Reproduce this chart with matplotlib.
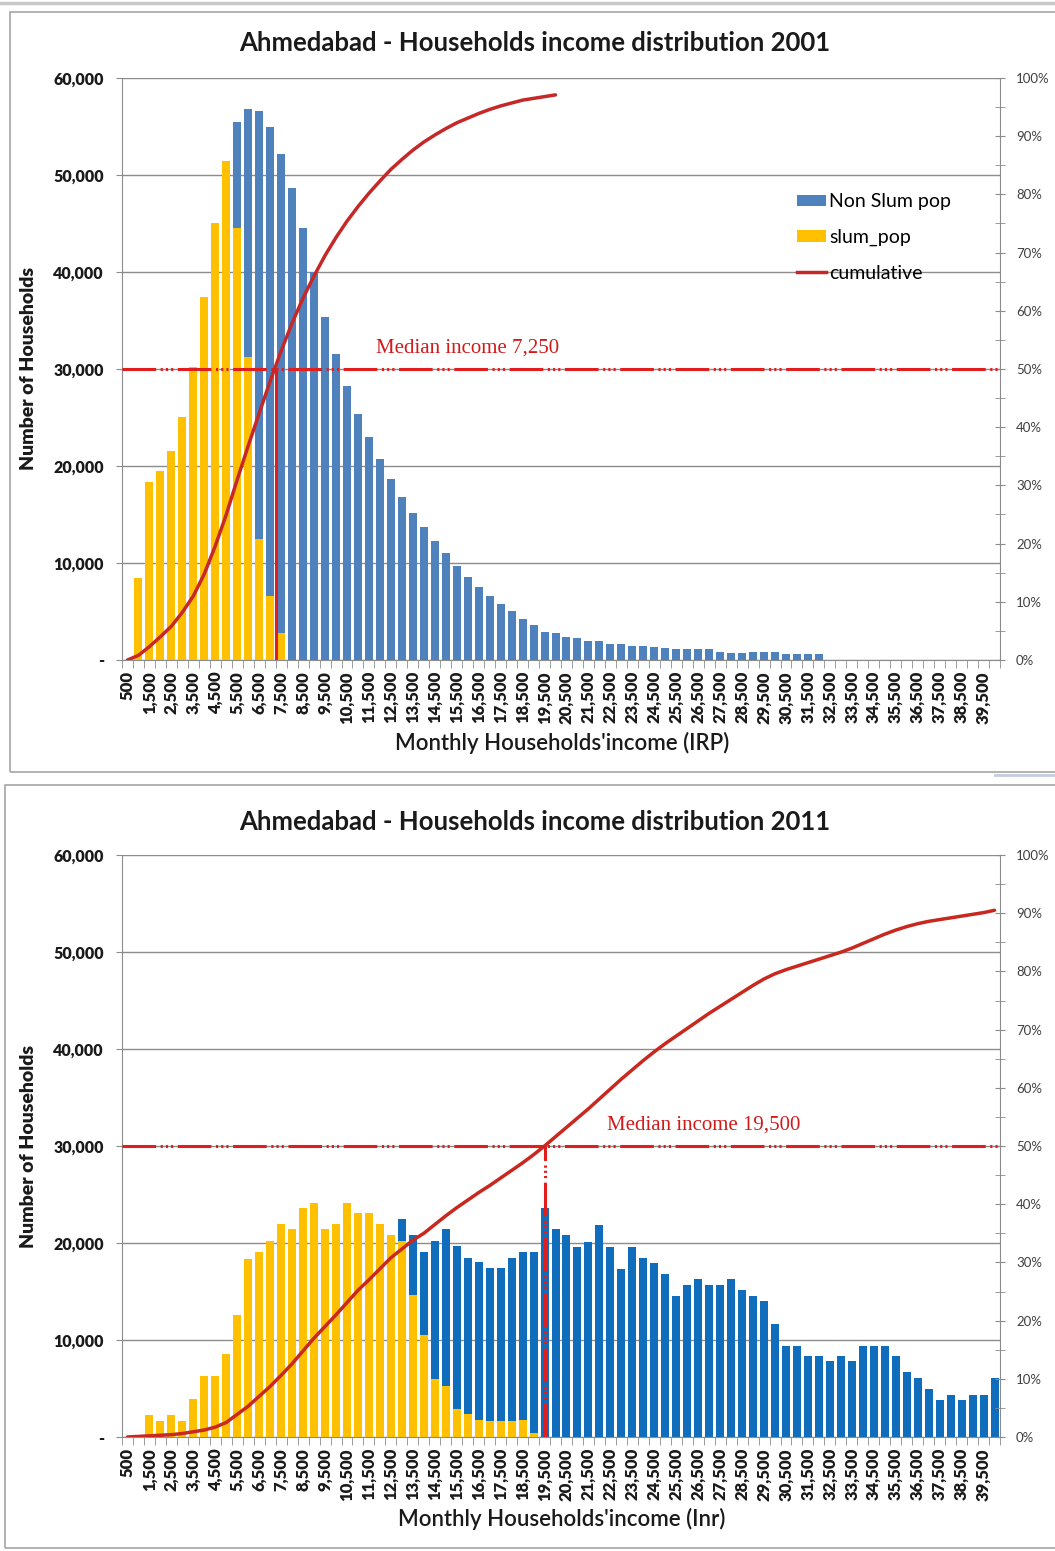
import matplotlib
matplotlib.use("Agg")
import matplotlib.pyplot as plt
from matplotlib.patches import Rectangle, Patch
from matplotlib.lines import Line2D
from matplotlib.ticker import FixedLocator, FuncFormatter, MultipleLocator

plt.rcParams['font.family'] = ['Lato', 'DejaVu Sans']

# ---------------- data ----------------
income_bins = list(range(500, 40001, 500))          # monthly household income classes
tick_values = list(range(500, 40000, 1000))          # labelled classes
tick_labels = [f"{v:,}" for v in tick_values]

# 2001
slum_2001 = [0, 8500, 18400, 19500, 21500, 25000, 30200, 37400, 45100, 51400,
             44500, 31200, 12500, 6600, 2800] + [0] * 65
non_slum_2001 = ([0] * 10 +
                 [11000, 25600, 44100, 48400, 49400, 48700, 44500, 40000, 35400, 31500,
                  28200, 25400, 23000, 20700, 18700, 16800, 15200, 13700, 12300, 11000,
                  9700, 8600, 7500, 6600, 5800, 5000, 4200, 3600, 2900, 2800,
                  2400, 2300, 2000, 2000, 1700, 1600, 1450, 1450, 1300, 1200,
                  1100, 1100, 1100, 1100, 850, 750, 750, 850, 850, 850,
                  600, 600, 600, 600] +
                 [0] * 16)
cumulative_2001 = [0, 0.8, 2.3, 4.0, 5.8, 8.2, 11.0, 14.8, 19.6, 25.0,
                   31.0, 36.8, 42.4, 47.9, 53.1, 57.9, 62.2, 66.0, 69.5, 72.6,
                   75.4, 77.9, 80.2, 82.3, 84.3, 86.0, 87.6, 89.0, 90.2, 91.3,
                   92.3, 93.1, 93.9, 94.6, 95.2, 95.7, 96.2, 96.5, 96.8, 97.1]
median_2001 = 7250

# 2011
slum_2011 = ([0, 0, 2300, 1600, 2300, 1600, 3900, 6300, 6300, 8600,
              12600, 18400, 19100, 20200, 22000, 21400, 23600, 24100, 21400, 22000,
              24100, 23100, 23100, 22000, 20800, 20200, 14600, 10500, 6000, 5300,
              2900, 2400, 1800, 1700, 1700, 1700, 1800, 400] + [0] * 42)
non_slum_2011 = ([0] * 25 +
                 [2300, 6200, 8600, 14200, 16100, 16800, 16100, 16200, 15700, 15700,
                  16800, 17300, 18700, 23600, 21400, 20800, 19600, 20100, 21900, 19600,
                  17300, 19600, 18500, 17900, 16800, 14500, 15700, 16300, 15700, 15700,
                  16300, 15200, 14500, 14000, 11700, 9400, 9400, 8300, 8300, 7800,
                  8300, 7800, 9400, 9400, 9400, 8300, 6700, 6100, 5000, 3800,
                  4300, 3800, 4300, 4300, 6100])
cumulative_2011 = [0.0, 0.1, 0.2, 0.3, 0.4, 0.6, 0.9, 1.2, 1.7, 2.5,
                   3.9, 5.3, 7.0, 8.7, 10.6, 12.6, 14.8, 17.0, 19.0, 21.0,
                   23.1, 25.2, 27.0, 28.9, 30.8, 32.3, 33.8, 35.0, 36.5, 38.0,
                   39.4, 40.7, 42.0, 43.2, 44.5, 45.8, 47.1, 48.5, 50.0, 51.6,
                   53.2, 54.8, 56.4, 58.1, 59.8, 61.5, 63.1, 64.7, 66.2, 67.6,
                   68.9, 70.2, 71.5, 72.8, 74.0, 75.2, 76.4, 77.6, 78.7, 79.6,
                   80.3, 80.9, 81.5, 82.1, 82.7, 83.3, 84.0, 84.8, 85.6, 86.4,
                   87.1, 87.7, 88.2, 88.6, 88.9, 89.2, 89.5, 89.8, 90.1, 90.5]
median_2011 = 19500

# ---------------- figure ----------------
W, H = 1055, 1551
fig = plt.figure(figsize=(W / 100, H / 100), dpi=100)
fig.patch.set_facecolor('white')

def px_rect(x0, y0, x1, y1):
    return [x0 / W, 1 - y1 / H, (x1 - x0) / W, (y1 - y0) / H]

# chart frames
for (x0, y0, x1, y1) in [(10, 12, 1070, 772), (5, 785, 1070, 1548)]:
    fig.add_artist(Rectangle((x0 / W, 1 - y1 / H), (x1 - x0) / W, (y1 - y0) / H,
                             transform=fig.transFigure, fill=False,
                             edgecolor='#a6a6a6', linewidth=1.2))
fig.add_artist(Line2D([0, 1], [1 - 3 / H, 1 - 3 / H], transform=fig.transFigure,
                      color='#c8c8c8', linewidth=2.5))
fig.add_artist(Line2D([995 / W, 1], [1 - 775 / H, 1 - 775 / H], transform=fig.transFigure,
                      color='#c5cbe0', linewidth=2))

MED_STYLE = (0, (11, 1.5, 0.7, 1, 0.7, 1, 0.7, 1.5))
SERIF = ['Liberation Serif', 'DejaVu Serif']


def draw_panel(rect, slum, non_slum, cumulative, median, title, xlabel,
               blue, yellow, cum_color, median_vstyle, title_y, xlabel_y, legend=False):
    ax = fig.add_axes(rect)
    ax.set_xlim(250, 40250)
    ax.set_ylim(0, 60000)
    width = 365
    ax.bar(income_bins, slum, width=width, color=yellow, zorder=2)
    ax.bar(income_bins, non_slum, width=width, bottom=slum, color=blue, zorder=2)

    ax.yaxis.set_major_locator(MultipleLocator(10000))
    ax.yaxis.set_major_formatter(FuncFormatter(lambda v, p: '-' if v == 0 else f"{int(v):,}"))
    ax.grid(axis='y', color='#8c8c8c', linewidth=1.0, zorder=0)
    ax.set_axisbelow(True)
    for s in ['top', 'right']:
        ax.spines[s].set_visible(False)
    ax.spines['left'].set_color('#8c8c8c')
    ax.spines['bottom'].set_color('#8c8c8c')
    ax.tick_params(axis='y', length=4, color='#8c8c8c', labelsize=11.5, pad=9)
    for t in ax.get_yticklabels():
        t.set_fontweight('heavy')
        t.set_color('#1a1a1a')

    ax.xaxis.set_major_locator(FixedLocator(tick_values))
    ax.set_xticklabels(tick_labels, rotation=90, fontsize=12, fontweight='heavy',
                       color='#1a1a1a')
    ax.xaxis.set_minor_locator(FixedLocator([250 + 500 * i for i in range(81)]))
    ax.tick_params(axis='x', which='major', length=0, pad=8)
    ax.tick_params(axis='x', which='minor', length=6, color='#8c8c8c')

    ax.set_ylabel('Number of Households', fontsize=14, fontweight='heavy',
                  color='#1a1a1a', labelpad=12)

    # cumulative share on the secondary axis
    ax2 = ax.twinx()
    ax2.set_ylim(0, 100)
    ax2.yaxis.set_major_locator(MultipleLocator(10))
    ax2.yaxis.set_minor_locator(MultipleLocator(5))
    ax2.yaxis.set_major_formatter(FuncFormatter(lambda v, p: f"{int(round(v))}%"))
    ax2.tick_params(axis='y', which='both', direction='inout', length=7, color='#8c8c8c',
                    labelsize=9.5, labelcolor='#404040', pad=8)
    for s in ['top', 'left', 'bottom']:
        ax2.spines[s].set_visible(False)
    ax2.spines['right'].set_color('#8c8c8c')

    xs = income_bins[:len(cumulative)]
    ax2.plot(xs, cumulative, color=cum_color, linewidth=2.5, zorder=4,
             solid_joinstyle='round', solid_capstyle='round')

    # median marker
    ax2.axhline(50, color='#e01e1e', linewidth=2.2, linestyle=MED_STYLE, zorder=3)
    ax2.plot([median, median], [0, 50], color='#e01e1e', linewidth=2.2,
             linestyle=median_vstyle, zorder=3)

    fig.text(535 / W, 1 - title_y / H, title, ha='center', va='center',
             fontsize=18.5, fontweight='bold', color='#1a1a1a')
    fig.text(562 / W, 1 - xlabel_y / H, xlabel, ha='center', va='center',
             fontsize=16, fontweight='semibold', color='#1a1a1a')

    if legend:
        handles = [Patch(facecolor=blue, edgecolor='none'),
                   Patch(facecolor=yellow, edgecolor='none'),
                   Line2D([], [], color=cum_color, linewidth=2.5)]
        ax.legend(handles, ['Non Slum pop', 'slum_pop', 'cumulative'],
                  loc='upper left', bbox_to_anchor=(0.76, 0.815), frameon=False,
                  fontsize=14, handlelength=1.5, handleheight=0.55, handletextpad=0.15,
                  labelspacing=0.95, borderaxespad=0)
    return ax, ax2


axA, axA2 = draw_panel(px_rect(122, 78, 1000, 660), slum_2001, non_slum_2001,
                       cumulative_2001, median_2001,
                       'Ahmedabad - Households income distribution 2001',
                       "Monthly Households'income (IRP)",
                       '#4f81bd', '#ffc000', '#c62828', '-', 43, 743, legend=True)
axA2.text(11800, 52.0, 'Median income 7,250', color='#d11a1a', fontsize=15,
          family=SERIF, ha='left', va='bottom')

axB, axB2 = draw_panel(px_rect(122, 855, 1000, 1437), slum_2011, non_slum_2011,
                       cumulative_2011, median_2011,
                       'Ahmedabad - Households income distribution 2011',
                       "Monthly Households'income (Inr)",
                       '#0f6dbb', '#ffc000', '#c8281e', MED_STYLE, 822, 1519)
axB2.text(22350, 52.0, 'Median income 19,500', color='#d11a1a', fontsize=15,
          family=SERIF, ha='left', va='bottom')

fig.savefig('out.png', dpi=100, facecolor='white')
